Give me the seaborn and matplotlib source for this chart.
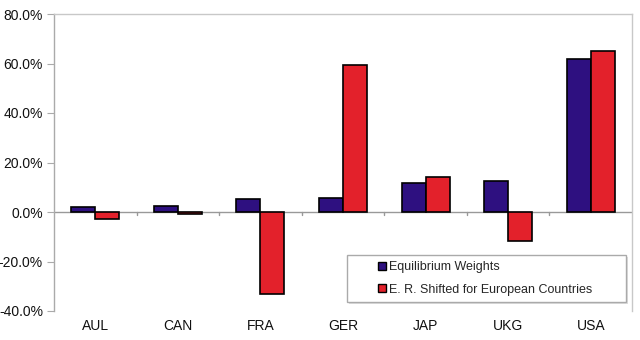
import matplotlib
matplotlib.use("Agg")
import matplotlib.pyplot as plt
import seaborn as sns
import pandas as pd
import numpy as np
from matplotlib.ticker import FuncFormatter, FixedLocator
from matplotlib.patches import Rectangle

countries = ["AUL", "CAN", "FRA", "GER", "JAP", "UKG", "USA"]
equilibrium = [1.9, 2.5, 5.4, 5.7, 11.7, 12.5, 61.7]
shifted = [-2.9, -0.9, -33.0, 59.4, 14.0, -11.7, 65.2]
series_names = ["Equilibrium Weights", "E. R. Shifted for European Countries"]
yticks = [-40, -20, 0, 20, 40, 60, 80]

df = pd.DataFrame({
    "country": countries * 2,
    "value": equilibrium + shifted,
    "series": [series_names[0]] * len(countries) + [series_names[1]] * len(countries),
})

sns.set_style("white")
plt.rcParams["font.family"] = ["Liberation Sans", "DejaVu Sans"]

fig = plt.figure(figsize=(6.4, 3.4), dpi=100)
ax = fig.add_axes([54 / 640, 1 - 311 / 340, (632 - 54) / 640, (311 - 14) / 340])

sns.barplot(data=df, x="country", y="value", hue="series", order=countries,
            hue_order=series_names, palette=["#2E1080", "#E3212B"],
            width=0.58, edgecolor="black", linewidth=1.2, saturation=1,
            errorbar=None, ax=ax, zorder=3)

ax.set_ylim(-40, 80)
ax.set_xlim(-0.5, len(countries) - 0.5)
ax.yaxis.set_major_locator(FixedLocator(yticks))
ax.yaxis.set_major_formatter(FuncFormatter(lambda v, p: f"{v:.1f}%"))
ax.set_xlabel("")
ax.set_ylabel("")

for s in ["top", "right", "left"]:
    ax.spines[s].set_visible(True)
    ax.spines[s].set_color("#c8c8c8")
    ax.spines[s].set_linewidth(1.0)
ax.spines["left"].set_color("#aaaaaa")
ax.spines["bottom"].set_visible(False)

# zero line with category boundary ticks
ax.axhline(0, color="#999999", linewidth=1.0, zorder=2)
for b in np.arange(0.5, len(countries) - 0.5, 1.0):
    ax.plot([b, b], [0, -1.2], color="#999999", linewidth=1.0, zorder=2)

ax.tick_params(axis="y", which="major", left=True, length=5, color="#aaaaaa",
               labelsize=10, pad=3, labelcolor="#111111")
ax.tick_params(axis="x", bottom=False, length=0, labelsize=10, pad=6,
               labelcolor="#111111")

# legend frame (wide box like the reference)
x0, x1 = (347 - 54) / 578, (626 - 54) / 578
y0, y1 = (311 - 302) / 297, (311 - 255) / 297
ax.add_patch(Rectangle((x0 + 0.004, y0 - 0.008), x1 - x0, y1 - y0,
                       transform=ax.transAxes, facecolor="#dddddd",
                       edgecolor="none", zorder=4))
ax.add_patch(Rectangle((x0, y0), x1 - x0, y1 - y0, transform=ax.transAxes,
                       facecolor="white", edgecolor="#aaaaaa", linewidth=1.0,
                       zorder=5))

leg = ax.legend(loc="center left", bbox_to_anchor=((378 - 54) / 578, (y0 + y1) / 2),
                fontsize=9, frameon=False,
                handlelength=0.6, handleheight=0.6, handletextpad=0.3,
                borderpad=0.0, labelspacing=0.85, borderaxespad=0)
leg.set_zorder(6)
for h in leg.legend_handles:
    h.set_linewidth(1.0)

fig.savefig("out.png", dpi=100, facecolor="white")
